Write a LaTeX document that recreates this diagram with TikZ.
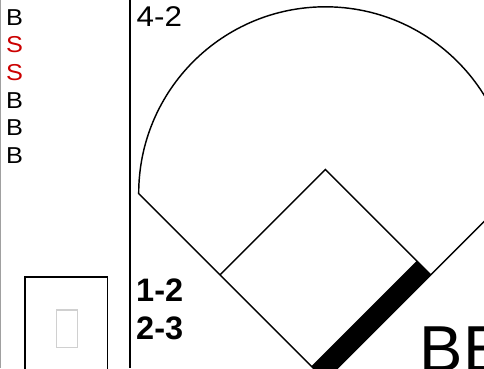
\documentclass[tikz,border=0pt]{standalone}
\usepackage{graphicx}
\usepackage{fontspec}
\setmainfont{Liberation Sans}
\definecolor{strikered}{RGB}{204,0,0}
\definecolor{panelgray}{RGB}{160,160,160}
\definecolor{lightbox}{RGB}{208,208,208}
\newcommand{\stretchtext}[2]{\scalebox{#1}[1]{#2}}
\begin{document}
\begin{tikzpicture}[x=1pt,y=-1pt,
  thin line/.style={line width=1.45pt, black},
  pitch/.style={anchor=base west, inner sep=0pt, font=\fontsize{23}{26}\selectfont},
  ball/.style={pitch, text=black},
  strike/.style={pitch, text=strikered},
  count/.style={anchor=base west, inner sep=0pt, font=\fontsize{28.5}{34}\selectfont},
  boldcount/.style={anchor=base west, inner sep=0pt, font=\fontsize{32.5}{36}\selectfont\bfseries},
  bigtext/.style={anchor=base west, inner sep=0pt, font=\fontsize{65}{70}\selectfont}]
\useasboundingbox (0,0) rectangle (484,368);
\fill[white] (0,0) rectangle (484,368);
% panel borders
\draw[panelgray, line width=1pt] (0.5,0) -- (0.5,368);
\draw[black, line width=2pt] (130.3,0) -- (130.3,368);
% pitch list
\node[ball]   (p1) at (5.8,25.2)  {\stretchtext{1.1}{B}};
\node[strike] (p2) at (5.8,52.8)  {\stretchtext{1.1}{S}};
\node[strike] (p3) at (5.8,80.4)  {\stretchtext{1.1}{S}};
\node[ball]   (p4) at (5.8,108)   {\stretchtext{1.1}{B}};
\node[ball]   (p5) at (5.8,135.6) {\stretchtext{1.1}{B}};
\node[ball]   (p6) at (5.8,163.2) {\stretchtext{1.1}{B}};
% strike zone box
\draw[black, line width=1.7pt] (24.8,370) -- (24.8,276.8) -- (107.5,276.8) -- (107.5,370);
\draw[lightbox, line width=1.3pt] (56.3,310) rectangle (77.7,347.7);
% counts
\node[count] (c1) at (136.5,26.5) {\stretchtext{1.1}{4-2}};
\node[boldcount] (c2) at (136,301.5) {1-2};
\node[boldcount] (c3) at (136,339.5) {2-3};
% field
\coordinate (home) at (325.4,380.2);
\coordinate (first) at (430.75,274.85);
\coordinate (second) at (325.4,169.5);
\coordinate (third) at (220.05,274.85);
\coordinate (lfoul) at (138.7,193.5);
\coordinate (rfoul) at (512.1,193.5);
\coordinate (bandin) at (416.75,260.85);
\coordinate (bandlow) at (311.4,366.2);
\fill[black] (home) -- (first) -- (bandin) -- (bandlow) -- cycle;
\draw[thin line] (rfoul) -- (home) -- (lfoul) arc[start angle=180, end angle=360, radius=186.7];
\draw[thin line] (third) -- (second) -- (first);
\node[bigtext] (label) at (419.5,371.5) {BE};
\end{tikzpicture}
\end{document}
